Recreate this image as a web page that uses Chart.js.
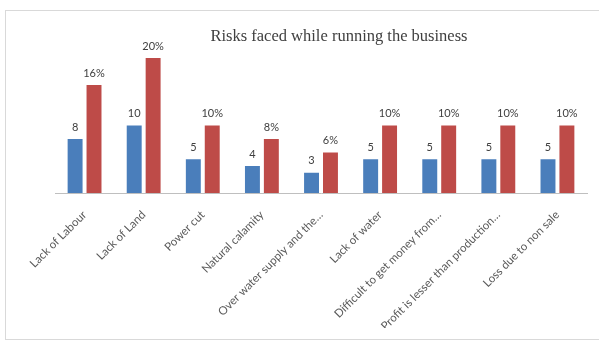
<!DOCTYPE html>
<html>
<head>
<meta charset="utf-8">
<script src="https://cdn.jsdelivr.net/npm/chart.js@4/dist/chart.umd.min.js"></script>
<style>
    body { margin: 0; background: #fff; }
    #box {
        position: absolute; left: 5px; top: 10px; width: 593px; height: 328px;
        border: 1px solid #d9d9d9; border-right: none;
    }
    #title {
        position: absolute; left: 0; top: 15px; width: 666px; text-align: center;
        font-family: "Liberation Serif", serif; font-size: 16.5px; color: #404040;
    }
    canvas { position: absolute; left: 0; top: 0; }
</style>
</head>
<body>
<div id="box">
    <canvas id="riskChart" width="593" height="328"></canvas>
    <div id="title">Risks faced while running the business</div>
</div>
<script>
// data
const categories = [
    'Lack of Labour',
    'Lack of Land',
    'Power cut',
    'Natural calamity',
    'Over water supply and the…',
    'Lack of water',
    'Difficult to get money from…',
    'Profit is lesser than production…',
    'Loss due to non sale'
];
const counts = [8, 10, 5, 4, 3, 5, 5, 5, 5];
const percents = [16, 20, 10, 8, 6, 10, 10, 10, 10];

// value labels above each bar
const barLabels = {
    id: 'barLabels',
    afterDatasetsDraw(chart) {
        const ctx = chart.ctx;
        ctx.save();
        ctx.font = '11px Lato, "Liberation Sans", sans-serif';
        ctx.fillStyle = '#404040';
        ctx.textAlign = 'center';
        ctx.textBaseline = 'middle';
        chart.data.datasets.forEach((ds, i) => {
            const meta = chart.getDatasetMeta(i);
            meta.data.forEach((bar, j) => {
                const txt = i === 1 ? ds.data[j] + '%' : String(ds.data[j]);
                ctx.fillText(txt, bar.x, bar.y - 12);
            });
        });
        ctx.restore();
    }
};

const ctx = document.getElementById('riskChart').getContext('2d');
new Chart(ctx, {
    type: 'bar',
    data: {
        labels: categories,
        datasets: [
            {
                label: 'Count',
                data: counts,
                backgroundColor: '#4a7ebb',
                categoryPercentage: 0.64,
                barPercentage: 0.79
            },
            {
                label: 'Percent',
                data: percents,
                backgroundColor: '#be4b48',
                categoryPercentage: 0.64,
                barPercentage: 0.79
            }
        ]
    },
    options: {
        responsive: false,
        animation: false,
        layout: {
            padding: { left: 49, right: 12, top: 47, bottom: 11 }
        },
        plugins: {
            legend: { display: false },
            tooltip: { enabled: false },
            title: { display: false }
        },
        scales: {
            x: {
                grid: { drawOnChartArea: false, drawTicks: false },
                border: { display: true, color: '#bfbfbf', width: 1 },
                ticks: {
                    color: '#595959',
                    font: { family: 'Lato, "Liberation Sans", sans-serif', size: 11.5 },
                    minRotation: 45,
                    maxRotation: 45,
                    autoSkip: false,
                    padding: 15
                }
            },
            y: {
                display: false,
                min: 0,
                max: 20
            }
        }
    },
    plugins: [barLabels]
});
</script>
</body>
</html>
